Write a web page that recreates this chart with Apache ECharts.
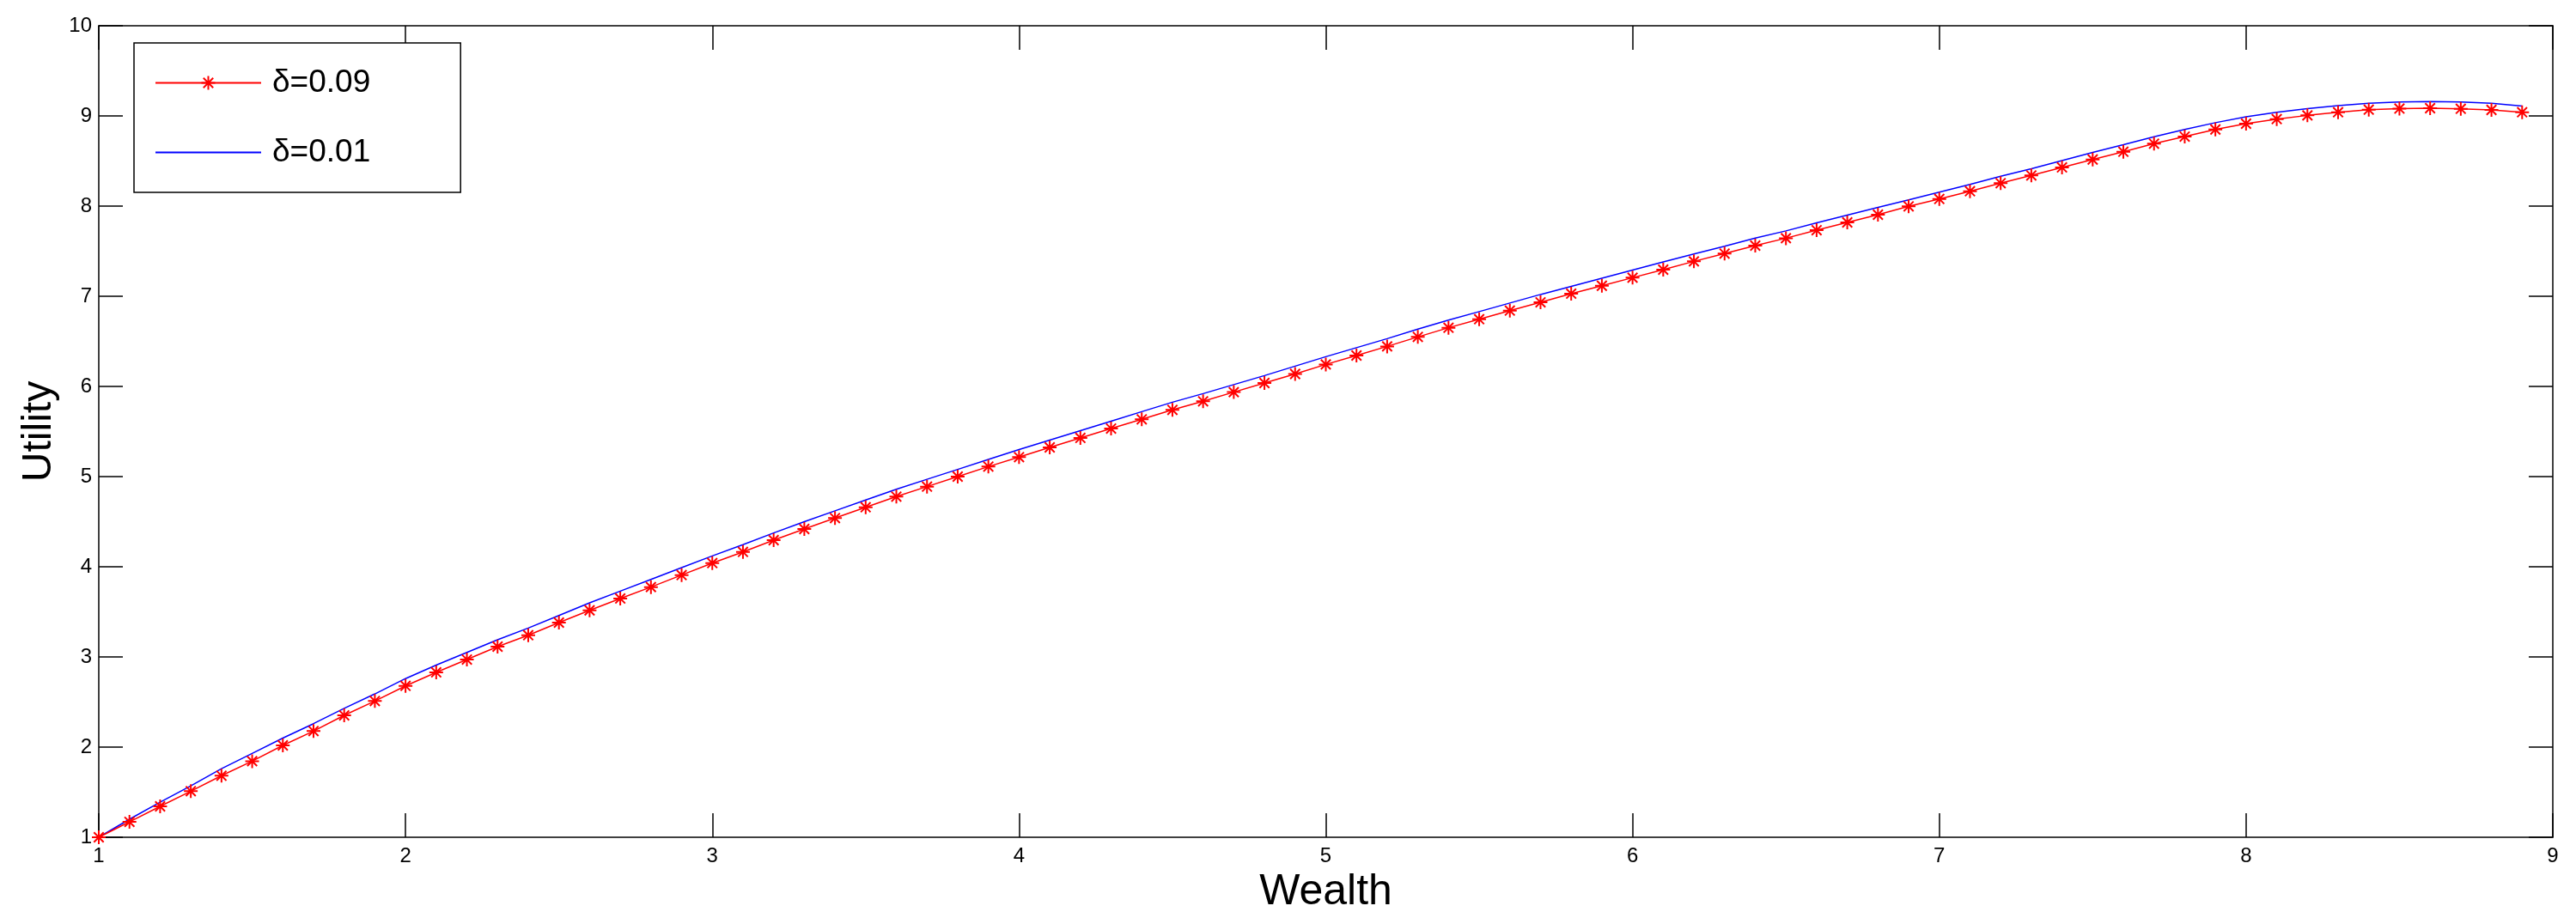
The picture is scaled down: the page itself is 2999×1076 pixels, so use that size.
<!DOCTYPE html>
<html>
<head>
<meta charset="utf-8">
<script src="https://cdn.jsdelivr.net/npm/echarts@6/dist/echarts.min.js"></script>
<style>
html,body{margin:0;padding:0;background:#fff;}
#chart{width:2999px;height:1076px;}
</style>
</head>
<body>
<div id="chart"></div>
<script>
// wealth grid (x axis)
var wealth = [1.0,1.1,1.2,1.3,1.4,1.5,1.6,1.7,1.8,1.9,
              2.0,2.1,2.2,2.3,2.4,2.5,2.6,2.7,2.8,2.9,
              3.0,3.1,3.2,3.3,3.4,3.5,3.6,3.7,3.8,3.9,
              4.0,4.1,4.2,4.3,4.4,4.5,4.6,4.7,4.8,4.9,
              5.0,5.1,5.2,5.3,5.4,5.5,5.6,5.7,5.8,5.9,
              6.0,6.1,6.2,6.3,6.4,6.5,6.6,6.7,6.8,6.9,
              7.0,7.1,7.2,7.3,7.4,7.5,7.6,7.7,7.8,7.9,
              8.0,8.1,8.2,8.3,8.4,8.5,8.6,8.7,8.8,8.9];
// delta = 0.09 (red, asterisks)
var utilRed = [1.000,1.171,1.343,1.511,1.683,1.844,2.019,2.178,2.352,2.511,
               2.679,2.829,2.971,3.114,3.241,3.381,3.517,3.648,3.775,3.908,
               4.041,4.165,4.295,4.419,4.540,4.660,4.778,4.889,5.000,5.111,
               5.216,5.324,5.429,5.533,5.635,5.740,5.835,5.937,6.038,6.138,
               6.244,6.343,6.444,6.549,6.651,6.746,6.841,6.933,7.029,7.117,
               7.206,7.295,7.387,7.473,7.562,7.644,7.733,7.819,7.905,7.997,
               8.079,8.165,8.254,8.340,8.429,8.517,8.603,8.692,8.771,8.850,
               8.914,8.965,9.006,9.041,9.070,9.082,9.086,9.079,9.067,9.041];
// delta = 0.01 (blue line)
var utilBlue = [1.000,1.200,1.390,1.570,1.760,1.930,2.100,2.260,2.430,2.590,
                2.760,2.910,3.050,3.190,3.320,3.460,3.600,3.730,3.860,3.990,
                4.120,4.245,4.375,4.500,4.620,4.740,4.860,4.970,5.080,5.190,
                5.300,5.405,5.510,5.615,5.720,5.825,5.920,6.020,6.120,6.225,
                6.330,6.430,6.530,6.635,6.735,6.830,6.925,7.020,7.110,7.200,
                7.290,7.380,7.470,7.555,7.645,7.725,7.815,7.900,7.985,8.070,
                8.155,8.240,8.330,8.415,8.505,8.595,8.680,8.770,8.850,8.925,
                8.990,9.040,9.080,9.115,9.140,9.155,9.160,9.155,9.140,9.110];
var legendNames = ['\u03b4=0.09','\u03b4=0.01'];

function pairs(xs, ys){
    var out = [];
    for (var i = 0; i < xs.length; i++) out.push([xs[i], ys[i]]);
    return out;
}

var font = 'Liberation Sans, Arial, Helvetica, sans-serif';
// matlab style '*' marker, built from filled bars
var star = 'path://M7,0L9,0L9,16L7,16Z' +
           'M0,7L16,7L16,9L0,9Z' +
           'M1.59,3.01L3.01,1.59L14.41,12.99L12.99,14.41Z' +
           'M1.59,12.99L12.99,1.59L14.41,3.01L3.01,14.41Z';

var axisLine = {show:true, lineStyle:{color:'#000', width:1.5}};
var tick = {show:true, inside:true, length:28, lineStyle:{color:'#000', width:1.5}};

var chart = echarts.init(document.getElementById('chart'));
var option = {
    backgroundColor:'#fff',
    animation:false,
    grid:{left:115, right:27, top:30, bottom:101, containLabel:false},
    legend:{
        orient:'vertical',
        left:156, top:50,
        data:[
            {name:legendNames[0]},
            {name:legendNames[1], itemStyle:{opacity:0}}   // plain line, no dot
        ],
        backgroundColor:'#fff',
        borderColor:'#000',
        borderWidth:1.5,
        borderRadius:0,
        padding:[28,105,28,24],
        itemGap:44,
        itemWidth:123,
        itemHeight:20,
        textStyle:{fontSize:37, color:'#000', fontFamily:font, padding:[0,0,0,8]}
    },
    xAxis:[{
        type:'value', min:1, max:9, interval:1,
        name:'Wealth', nameLocation:'middle', nameGap:33,
        nameTextStyle:{fontSize:50, color:'#000', fontFamily:font},
        axisLine:axisLine, axisTick:tick,
        axisLabel:{fontSize:24, color:'#000', fontFamily:font, margin:10},
        splitLine:{show:false}
    },{
        type:'value', min:1, max:9, interval:1, position:'top',
        axisLine:axisLine, axisTick:tick, axisLabel:{show:false},
        splitLine:{show:false}
    }],
    yAxis:[{
        type:'value', min:1, max:10, interval:1,
        name:'Utility', nameLocation:'middle', nameGap:45,
        nameTextStyle:{fontSize:48, color:'#000', fontFamily:font},
        axisLine:axisLine, axisTick:tick,
        axisLabel:{fontSize:24, color:'#000', fontFamily:font, margin:8},
        splitLine:{show:false}
    },{
        type:'value', min:1, max:10, interval:1, position:'right',
        axisLine:axisLine, axisTick:tick, axisLabel:{show:false},
        splitLine:{show:false}
    }],
    series:[{
        name:legendNames[0],
        type:'line',
        data:pairs(wealth, utilRed),
        symbol:star,
        symbolSize:16,
        showAllSymbol:true,
        itemStyle:{color:'#ff0000'},
        lineStyle:{color:'#ff0000', width:1.5},
        z:3
    },{
        name:legendNames[1],
        type:'line',
        data:pairs(wealth, utilBlue),
        symbol:'none',
        itemStyle:{color:'#0000ff'},
        lineStyle:{color:'#0000ff', width:1.5},
        z:2
    }]
};
chart.setOption(option);
</script>
</body>
</html>
